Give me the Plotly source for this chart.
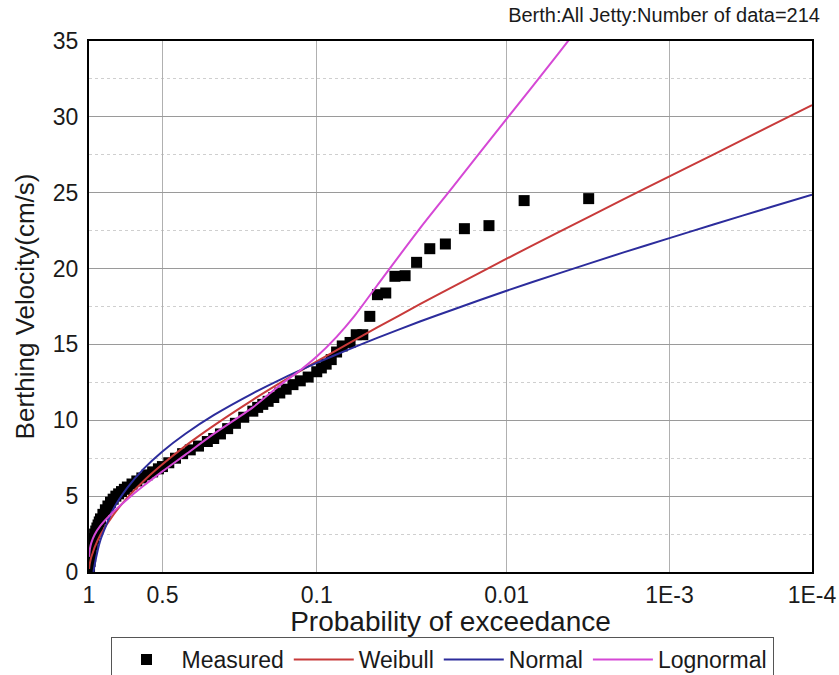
import numpy as np
import plotly.graph_objects as go

# ---------------- data ----------------
tick_probs = [1, 0.5, 0.1, 0.01, 1e-3, 1e-4]
tick_labels = ["1", "0.5", "0.1", "0.01", "1E-3", "1E-4"]

measured_p = [0.003265, 0.007929, 0.012593, 0.017257, 0.021922, 0.026586, 0.03125,
              0.035914, 0.040578, 0.045243, 0.049907, 0.054571, 0.0592, 0.0639, 0.0686,
              0.075, 0.08, 0.085, 0.09, 0.095, 0.10, 0.11, 0.12, 0.13, 0.14, 0.15, 0.16,
              0.17, 0.18, 0.19, 0.20, 0.22, 0.24, 0.26, 0.28, 0.30, 0.32, 0.35, 0.38,
              0.41, 0.44, 0.47, 0.50, 0.52, 0.55, 0.58, 0.61, 0.64, 0.67, 0.70, 0.72,
              0.74, 0.76, 0.78, 0.80, 0.82, 0.84, 0.86, 0.88, 0.90, 0.91, 0.92, 0.93,
              0.94, 0.95, 0.96, 0.97, 0.98, 0.985, 0.99, 0.995]
measured_v = [24.61, 24.48, 22.83, 22.63, 21.62, 21.31, 20.41,
              19.53, 19.49, 18.39, 18.28, 16.85, 15.64, 15.64, 15.13,
              14.9, 14.5, 14.0, 13.7, 13.45, 13.2, 12.85, 12.6, 12.35, 12.05, 11.8, 11.5,
              11.25, 11.05, 10.85, 10.6, 10.2, 9.8, 9.45, 9.1, 8.8, 8.6, 8.3, 8.05,
              7.8, 7.5, 7.2, 6.95, 6.8, 6.6, 6.4, 6.2, 6.0, 5.8, 5.6, 5.45,
              5.3, 5.15, 5.0, 4.8, 4.6, 4.35, 4.1, 3.8, 3.5, 3.3, 3.1, 2.9,
              2.7, 2.5, 2.2, 1.8, 1.3, 1.0, 0.7, 0.3]

weibull_p = [0.999, 0.995, 0.99, 0.98, 0.96, 0.95, 0.9, 0.8, 0.7, 0.6, 0.5, 0.4, 0.3,
             0.2, 0.15, 0.1, 0.07, 0.05, 0.03, 0.02, 0.01, 0.005, 0.002, 0.001,
             5e-4, 2e-4, 1e-4]
weibull_v = [0.2, 0.45, 0.65, 0.97, 1.4, 1.62, 2.45, 3.75, 4.9, 6.0, 7.1, 8.3, 9.65,
             11.35, 12.45, 13.88, 15.05, 16.12, 17.65, 18.8, 20.65, 22.39, 24.54, 26.08,
             27.55, 29.42, 30.78]

normal_p = [0.96, 0.95, 0.9, 0.8, 0.7, 0.6, 0.5, 0.4, 0.3, 0.2, 0.15, 0.1, 0.07, 0.05,
            0.03, 0.02, 0.01, 0.005, 0.002, 0.001, 5e-4, 2e-4, 1e-4]
normal_v = [0.0, 0.47, 2.12, 4.12, 5.56, 6.80, 7.95, 9.10, 10.34, 11.78, 12.67, 13.78,
            14.66, 15.43, 16.51, 17.29, 18.54, 19.67, 21.05, 22.01, 22.92, 24.06, 24.87]

lognormal_p = [0.999, 0.995, 0.99, 0.98, 0.95, 0.9, 0.8, 0.7, 0.6, 0.5, 0.4, 0.3, 0.2,
               0.15, 0.12, 0.1, 0.08, 0.065, 0.05, 0.03, 0.02, 0.01, 0.005, 0.003]
lognormal_v = [1.0, 1.35, 1.6, 1.9, 2.45, 3.05, 3.95, 4.8, 5.68, 6.63, 7.72, 9.1, 10.85,
               12.3, 13.3, 14.2, 15.5, 16.9, 18.9, 22.65, 25.37, 29.87, 34.15, 37.3]


# probability-paper scale of the horizontal axis
def prob_scale(p):
    p = np.asarray(p, dtype=float)
    return np.log(1.0 + 0.22 * (-np.log10(p)))


FONT = "Liberation Sans, Arial, sans-serif"

fig = go.Figure()
fig.add_trace(go.Scatter(
    x=prob_scale(measured_p), y=measured_v, mode="markers", name="Measured",
    marker=dict(symbol="square", size=11, color="black", line=dict(width=0)),
))
fig.add_trace(go.Scatter(
    x=prob_scale(weibull_p), y=weibull_v, mode="lines", name="Weibull",
    line=dict(color="#c83a3a", width=2, shape="spline", smoothing=0.6),
))
fig.add_trace(go.Scatter(
    x=prob_scale(normal_p), y=normal_v, mode="lines", name="Normal",
    line=dict(color="#2c2c9c", width=2, shape="spline", smoothing=0.6),
))
fig.add_trace(go.Scatter(
    x=prob_scale(lognormal_p), y=lognormal_v, mode="lines", name="Lognormal",
    line=dict(color="#d548d5", width=2, shape="spline", smoothing=0.8),
))

fig.update_layout(
    width=839, height=675,
    margin=dict(l=89, r=27, t=41, b=103),
    paper_bgcolor="white", plot_bgcolor="white",
    font=dict(family=FONT, color="#1a1a1a"),
    title=dict(text="Berth:All Jetty:Number of data=214", x=820 / 839, xanchor="right",
               y=1 - 15 / 675, yanchor="middle", font=dict(size=20, family=FONT)),
    showlegend=True,
    legend=dict(orientation="h", xref="container", x=442 / 839, xanchor="center",
                yref="container", y=1 - 637 / 675, yanchor="top",
                bordercolor="#555555", borderwidth=1, bgcolor="white",
                font=dict(size=23, family=FONT), itemwidth=60),
)

fig.update_xaxes(
    range=[0, float(prob_scale(1e-4))],
    tickmode="array", tickvals=list(prob_scale(tick_probs)), ticktext=tick_labels,
    showgrid=True, gridcolor="#b0b0b0", gridwidth=1, zeroline=False,
    showline=True, linecolor="black", linewidth=2, mirror=True,
    ticks="", ticklabelstandoff=1, tickfont=dict(size=23),
    title=dict(text="Probability of exceedance", font=dict(size=28), standoff=4),
    automargin=False,
)
fig.update_yaxes(
    range=[0, 35], tickmode="linear", tick0=0, dtick=5,
    showgrid=True, gridcolor="#9a9a9a", gridwidth=1, zeroline=False,
    minor=dict(dtick=2.5, showgrid=True, gridcolor="#cfcfcf", griddash="dot"),
    showline=True, linecolor="black", linewidth=2, mirror=True,
    ticks="", ticklabelstandoff=4, tickfont=dict(size=23),
    title=dict(text="Berthing Velocity(cm/s)", font=dict(size=26), standoff=11),
    automargin=False,
)

fig.write_html("out.html")
